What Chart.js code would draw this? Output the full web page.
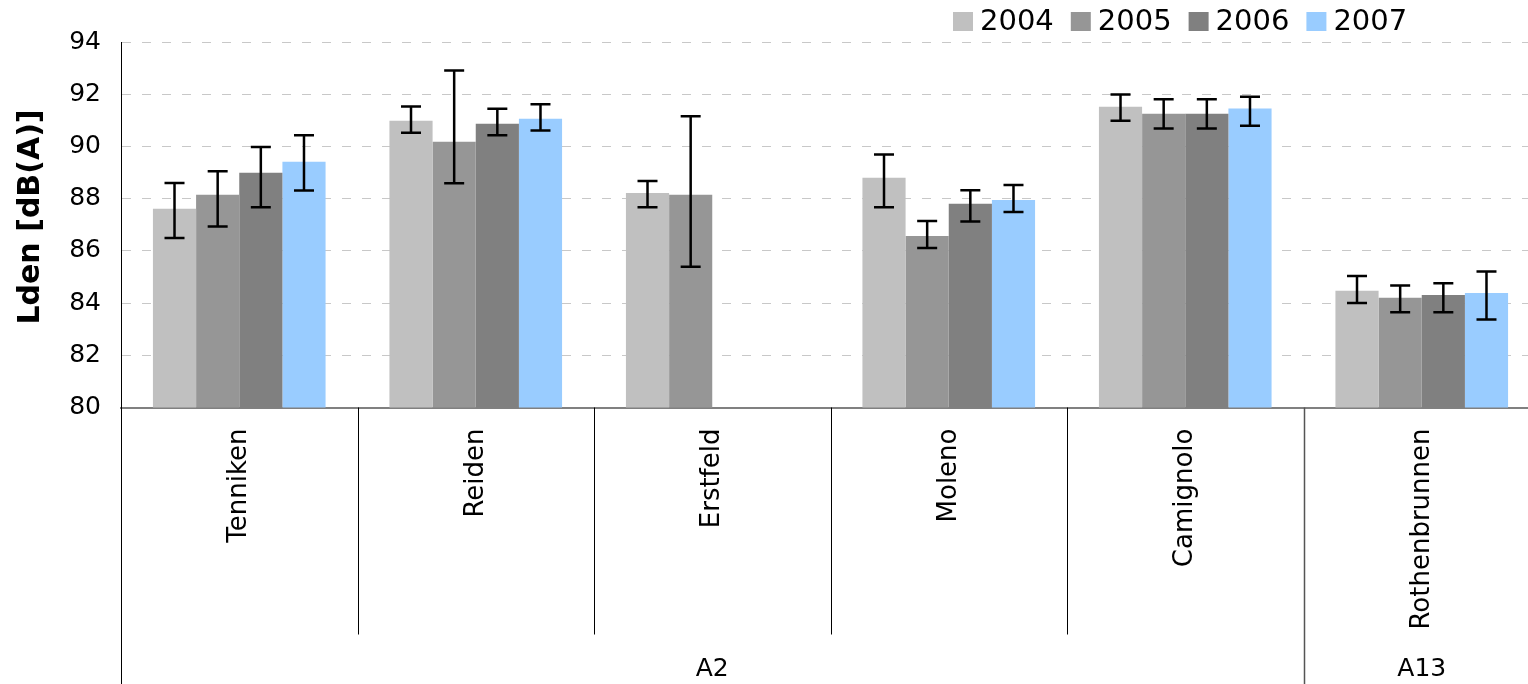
<!DOCTYPE html>
<html><head><meta charset="utf-8">
<script src="https://cdn.jsdelivr.net/npm/chart.js@4/dist/chart.umd.min.js"></script>
<style>
html,body{margin:0;padding:0;overflow:hidden;background:#fff;width:1528px;height:684px}
#wrap{position:absolute;left:0;top:0;width:1540px;height:684px}
</style></head>
<body><div id="wrap"><canvas id="c" width="1540" height="684"></canvas></div>
<script>
const categories = ['Tenniken','Reiden','Erstfeld','Moleno','Camignolo','Rothenbrunnen'];
const groupLabels = ['A2','A13'];
const groupStart = [0, 5];
const groupEnd = [4, 5];
const years = ['2004','2005','2006','2007'];
const colors = ['#c0c0c0','#969696','#808080','#99ccff'];
const yTitle = 'Lden [dB(A)]';

const v2004 = [87.61, 90.98, 88.22, 88.80, 91.52, 84.47];
const lo2004 = [86.49, 90.52, 87.67, 87.67, 90.98, 84.00];
const hi2004 = [88.60, 91.53, 88.68, 89.69, 91.99, 85.04];

const v2005 = [88.15, 90.18, 88.15, 86.57, 91.25, 84.20];
const lo2005 = [86.93, 88.59, 85.39, 86.11, 90.69, 83.65];
const hi2005 = [89.05, 92.91, 91.16, 87.14, 91.81, 84.67];

const v2006 = [88.99, 90.87, null, 87.80, 91.25, 84.31];
const lo2006 = [87.67, 90.43, null, 87.12, 90.69, 83.65];
const hi2006 = [89.98, 91.44, null, 88.32, 91.81, 84.76];

const v2007 = [89.41, 91.06, null, 87.95, 91.45, 84.39];
const lo2007 = [88.31, 90.61, null, 87.49, 90.79, 83.37];
const hi2007 = [90.43, 91.62, null, 88.52, 91.90, 85.21];

const yTicks = [80, 82, 84, 86, 88, 90, 92, 94];

const values = [v2004, v2005, v2006, v2007];
const lows = [lo2004, lo2005, lo2006, lo2007];
const highs = [hi2004, hi2005, hi2006, hi2007];

const FONT = 'DejaVu Sans';

const extras = {
  id: 'extras',
  afterDatasetsDraw(chart) {
    const ctx = chart.ctx, ys = chart.scales.y;
    chart.data.datasets.forEach((ds, di) => {
      const meta = chart.getDatasetMeta(di);
      meta.data.forEach((bar, i) => {
        const lo = ds.errLow[i], hi = ds.errHigh[i];
        if (lo == null || hi == null || ds.data[i] == null) return;
        const x = bar.x, y1 = ys.getPixelForValue(lo), y2 = ys.getPixelForValue(hi);
        ctx.save();
        ctx.strokeStyle = '#000'; ctx.lineWidth = 2.5;
        ctx.beginPath();
        ctx.moveTo(x, y1); ctx.lineTo(x, y2);
        ctx.moveTo(x - 10, y1); ctx.lineTo(x + 10, y1);
        ctx.moveTo(x - 10, y2); ctx.lineTo(x + 10, y2);
        ctx.stroke();
        ctx.restore();
      });
    });
  },
  afterDraw(chart) {
    const ctx = chart.ctx, xs = chart.scales.x, area = chart.chartArea;
    const n = categories.length;
    const w = (xs.right - xs.left) / n;
    const bottom = chart.height;
    ctx.save();
    // category separators
    for (let k = 0; k <= n; k++) {
      const x = Math.round(xs.left + k * w) + 0.5;
      const isGroup = groupStart.includes(k);
      ctx.beginPath();
      ctx.strokeStyle = isGroup && k > 0 ? '#555' : '#000';
      ctx.lineWidth = isGroup && k > 0 ? 1.5 : 1;
      ctx.moveTo(x, area.bottom);
      ctx.lineTo(x, isGroup ? bottom : area.bottom + 227);
      ctx.stroke();
    }
    // group labels
    ctx.fillStyle = '#000';
    ctx.font = '25px "' + FONT + '"';
    ctx.textAlign = 'center'; ctx.textBaseline = 'middle';
    groupLabels.forEach((g, gi) => {
      const x0 = xs.left + groupStart[gi] * w, x1 = xs.left + (groupEnd[gi] + 1) * w;
      ctx.fillText(g, (x0 + x1) / 2, 669);
    });
    // y axis title
    ctx.save();
    ctx.translate(31, 217);
    ctx.rotate(-Math.PI / 2);
    ctx.font = 'bold 30px "' + FONT + '"';
    ctx.textAlign = 'center'; ctx.textBaseline = 'middle';
    ctx.fillText(yTitle, 0, 0);
    ctx.restore();
    // legend
    ctx.font = '29px "' + FONT + '"';
    ctx.textAlign = 'left'; ctx.textBaseline = 'middle';
    let lx = 953;
    chart.data.datasets.forEach(ds => {
      ctx.fillStyle = ds.backgroundColor;
      ctx.fillRect(lx, 12, 20, 19);
      ctx.fillStyle = '#000';
      ctx.fillText(ds.label, lx + 27, 22);
      lx += 27 + ctx.measureText(ds.label).width + 17;
    });
    ctx.restore();
  }
};

new Chart(document.getElementById('c'), {
  type: 'bar',
  data: {
    labels: categories,
    datasets: years.map((y, i) => ({
      label: y,
      data: values[i],
      errLow: lows[i],
      errHigh: highs[i],
      backgroundColor: colors[i],
      borderWidth: 0,
      categoryPercentage: 0.73,
      barPercentage: 1.0
    }))
  },
  options: {
    responsive: false,
    animation: false,
    devicePixelRatio: 1,
    layout: { padding: { top: 42, left: 0, right: 0, bottom: 0 } },
    plugins: { legend: { display: false }, tooltip: { enabled: false } },
    scales: {
      x: {
        grid: { display: false, drawTicks: false },
        border: { display: true, color: '#808080', width: 2 },
        ticks: { font: { family: FONT, size: 26 }, color: '#000', minRotation: 90, maxRotation: 90, padding: 21, autoSkip: false },
        afterFit(s) { s.height = 684 - 407.5; }
      },
      y: {
        min: 80, max: 94,
        afterBuildTicks(s) { s.ticks = yTicks.map(v => ({ value: v })); },
        ticks: { font: { family: FONT, size: 25 }, color: '#000', padding: 20 },
        grid: { color: '#c8c8c8', drawTicks: false, lineWidth: 1 },
        border: { display: true, color: '#000', width: 1, dash: [9, 11] },
        title: { display: false },
        afterFit(s) { s.width = 121; }
      }
    }
  },
  plugins: [extras]
});
</script>
</body></html>
